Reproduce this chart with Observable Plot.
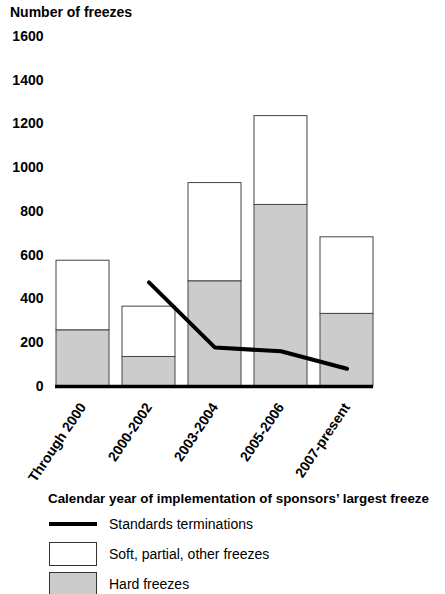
<!DOCTYPE html>
<html>
<head>
<meta charset="utf-8">
<script src="https://cdn.jsdelivr.net/npm/d3@7"></script>
<script src="https://cdn.jsdelivr.net/npm/@observablehq/plot@0.6"></script>
<style>
  html, body { margin: 0; padding: 0; background: #fff; width: 445px; height: 594px; overflow: hidden; }
  body { font-family: "Liberation Sans", Arial, Helvetica, sans-serif; position: relative; }
  .abs { position: absolute; white-space: nowrap; }
  #ytitle { left: 10px; top: 4px; font-weight: bold; font-size: 14px; }
  #chart { position: absolute; left: 0; top: 0; }
  #xtitle { left: 48px; top: 491px; font-weight: bold; font-size: 13.4px; }
  .leg { position: absolute; left: 0; top: 0; }
</style>
</head>
<body>
<div id="chart"></div>
<div class="abs" id="ytitle">Number of freezes</div>
<div class="abs" id="xtitle">Calendar year of implementation of sponsors’ largest freeze</div>
<svg class="leg" width="445" height="594" id="legend"></svg>
<script>
const categories = ["Through 2000", "2000-2002", "2003-2004", "2005-2006", "2007-present"];
const hardFreezes = [257, 135, 481, 830, 332];
const softFreezes = [318, 230, 449, 406, 350];
const terminations = [null, 476, 178, 161, 81];
const yTicks = [0, 200, 400, 600, 800, 1000, 1200, 1400, 1600];

const rows = categories.map((c, i) => ({
  cat: c,
  hard: hardFreezes[i],
  soft: softFreezes[i],
  total: hardFreezes[i] + softFreezes[i],
  term: terminations[i]
}));
const lineRows = rows.filter(d => d.term != null);

const chart = Plot.plot({
  width: 445,
  height: 490,
  marginTop: 36,
  marginBottom: 104,
  marginLeft: 55,
  marginRight: 72,
  style: { fontFamily: '"Liberation Sans", Arial, Helvetica, sans-serif', fontSize: "14px", color: "#000", background: "transparent" },
  x: { domain: categories, paddingInner: 0.2, paddingOuter: 0, label: null },
  y: { domain: [0, 1600], label: null },
  marks: [
    Plot.axisY({ ticks: yTicks, tickFormat: d => String(d), tickSize: 0, tickPadding: 12, fontWeight: "bold", fontSize: 14, label: null }),
    Plot.axisX({ tickSize: 0, tickRotate: -56, tickPadding: 18, fontWeight: "bold", fontSize: 14, label: null }),
    Plot.barY(rows, { x: "cat", y1: 0, y2: "hard", fill: "#cccccc", stroke: "#444", strokeWidth: 1 }),
    Plot.barY(rows, { x: "cat", y1: "hard", y2: "total", fill: "#ffffff", stroke: "#444", strokeWidth: 1 }),
    Plot.ruleY([0], { stroke: "#000", strokeWidth: 3.5 }),
    Plot.line(lineRows, { x: "cat", y: "term", stroke: "#000", strokeWidth: 4, strokeLinecap: "round", strokeLinejoin: "miter" })
  ]
});
document.getElementById("chart").appendChild(chart);

// Legend
const leg = d3.select("#legend");
const items = [
  { label: "Standards terminations", type: "line", y: 524 },
  { label: "Soft, partial, other freezes", type: "box", fill: "#ffffff", y: 554 },
  { label: "Hard freezes", type: "box", fill: "#cccccc", y: 584 }
];
items.forEach(it => {
  if (it.type === "line") {
    leg.append("line").attr("x1", 49).attr("x2", 97).attr("y1", it.y).attr("y2", it.y)
      .attr("stroke", "#000").attr("stroke-width", 4);
  } else {
    leg.append("rect").attr("x", 49.5).attr("y", it.y - 11.5).attr("width", 47).attr("height", 23)
      .attr("fill", it.fill).attr("stroke", "#333").attr("stroke-width", 1);
  }
  leg.append("text").attr("x", 109).attr("y", it.y).attr("dy", "0.35em")
    .attr("font-size", 14).attr("font-family", '"Liberation Sans", Arial, sans-serif')
    .text(it.label);
});
</script>
</body>
</html>
